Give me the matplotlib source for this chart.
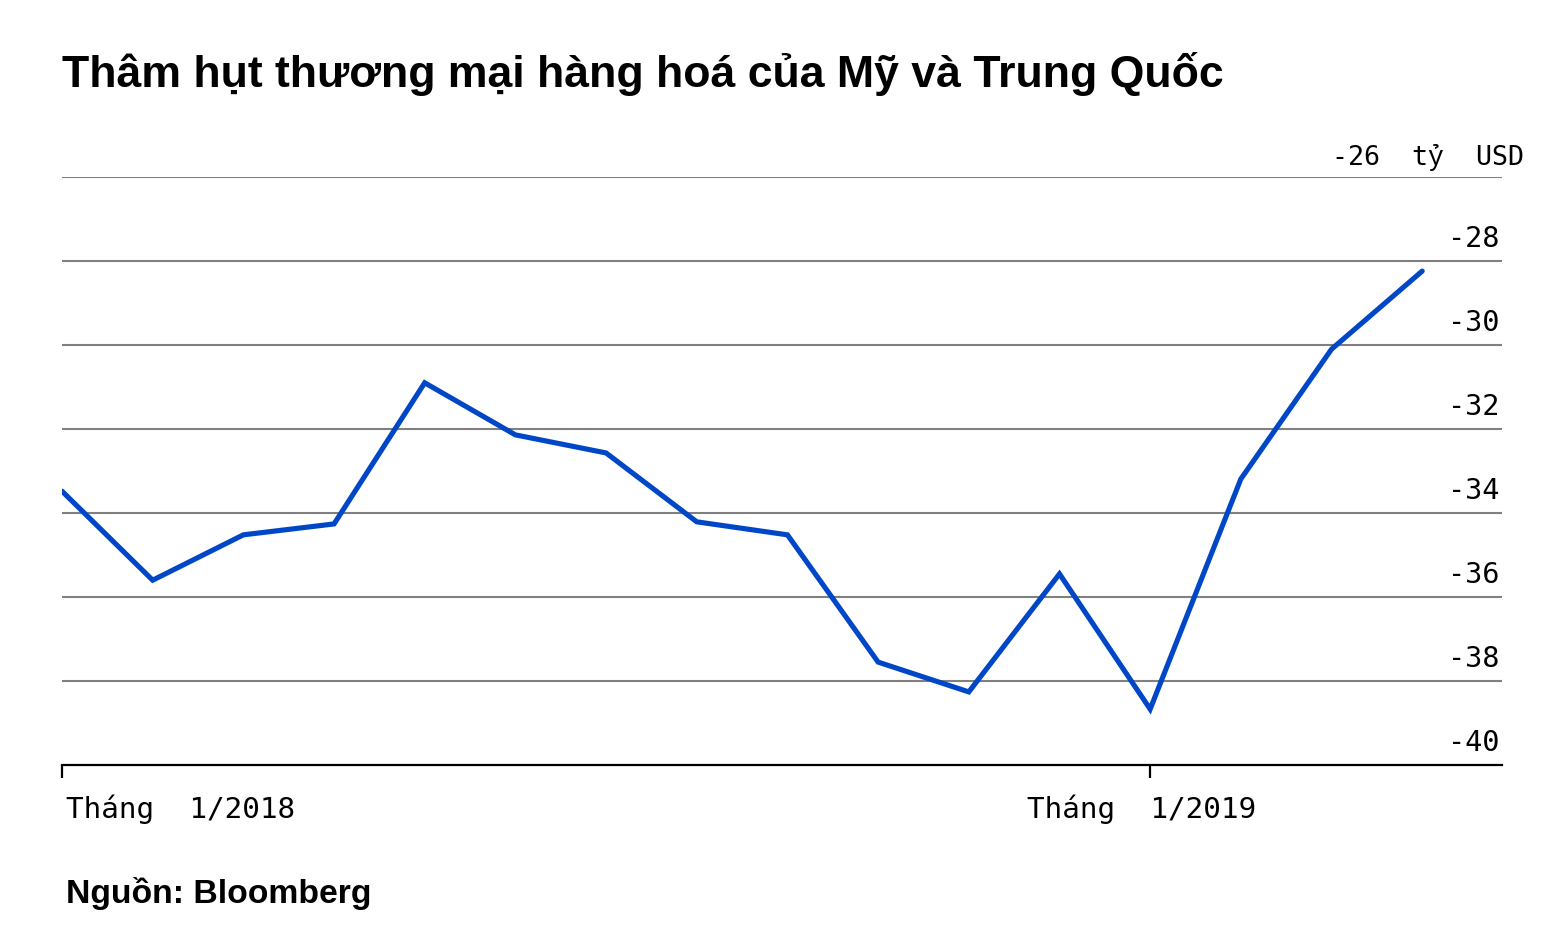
import matplotlib.pyplot as plt
from matplotlib.transforms import offset_copy

# du lieu: thang 1/2018 -> 4/2019 (ty USD)
months = list(range(16))
deficit = [-33.48, -35.6, -34.52, -34.26, -30.9, -32.14, -32.57, -34.21,
           -34.52, -37.55, -38.26, -35.45, -38.67, -33.19, -30.1, -28.24]
y_ticks = [-26, -28, -30, -32, -34, -36, -38, -40]
x_ticks = [0, 12]
x_labels = ["Tháng  1/2018", "Tháng  1/2019"]

title = "Thâm hụt thương mại hàng hoá của Mỹ và Trung Quốc"
source = "Nguồn: Bloomberg"
mono = ["DejaVu Sans Mono", "Liberation Mono", "DejaVu Sans"]

fig = plt.figure(figsize=(15.64, 9.48), dpi=100)
ax = fig.add_axes([62 / 1564, 1 - 765 / 948, 1440 / 1564, 588 / 948])

ax.plot(months, deficit, color="#0047c8", lw=3.7, solid_joinstyle="miter",
        solid_capstyle="round", zorder=3)

ax.set_xlim(0, 15.88)
ax.set_ylim(-40, -26)

# luoi ngang
for v in y_ticks[:-1]:
    ax.axhline(v, color="#808080", lw=1.5, zorder=1)
for s in ["top", "left", "right"]:
    ax.spines[s].set_visible(False)
ax.spines["bottom"].set_color("black")
ax.spines["bottom"].set_linewidth(1.6)

ax.set_yticks([])
ax.set_xticks(x_ticks)
ax.set_xticklabels([])
ax.tick_params(axis="x", length=9, width=1.6, color="black")

# nhan truc y ben phai
tr = offset_copy(ax.get_yaxis_transform(), fig=fig, x=-2, y=6, units="points")
for v in y_ticks[1:]:
    ax.text(1.0, v, f"{v}", transform=tr, ha="right", va="bottom",
            fontsize=20.5, family=mono)
ax.text(1524 / 1564, 1 - 165 / 948, f"{y_ticks[0]}  tỷ  USD", transform=fig.transFigure,
        ha="right", va="baseline", fontsize=19.2, family=mono)

# nhan truc x
trx = offset_copy(ax.get_xaxis_transform(), fig=fig, x=0, y=-21, units="points")
ax.text(x_ticks[0] + 0.04, 0, x_labels[0], transform=trx, ha="left", va="top",
        fontsize=21.2, family=mono)
ax.text(x_ticks[1] - 0.1, 0, x_labels[1], transform=trx, ha="center", va="top",
        fontsize=21.2, family=mono)

fig.text(62 / 1564, 1 - 87 / 948, title, fontsize=32.1, fontweight="bold",
         family="Liberation Sans", ha="left", va="baseline")
fig.text(66 / 1564, 1 - 903 / 948, source, fontsize=24.3, fontweight="bold",
         family="Liberation Sans", ha="left", va="baseline")

fig.savefig("out.png", dpi=100)
